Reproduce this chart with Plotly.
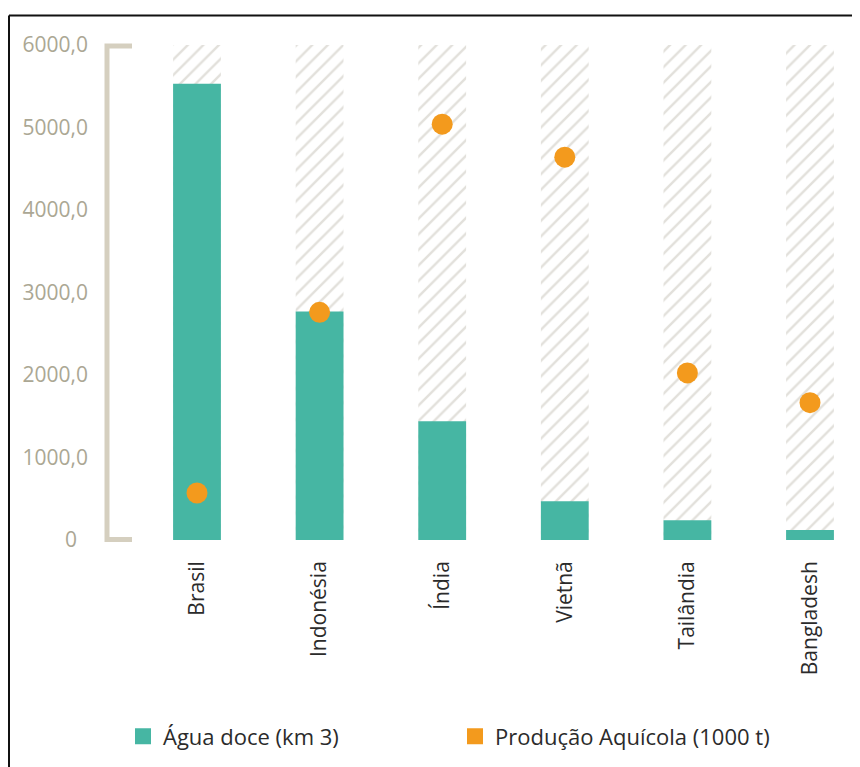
import plotly.graph_objects as go

paises = ["Brasil", "Indonésia", "Índia", "Vietnã", "Tailândia", "Bangladesh"]
agua_doce = [5530, 2770, 1440, 470, 240, 120]          # km 3
producao_aquicola = [570, 2760, 5040, 4640, 2025, 1665]  # 1000 t
escala_max = [6000] * len(paises)
tick_vals = [0, 1000, 2000, 3000, 4000, 5000, 6000]
tick_text = ["0\u00a0\u00a0", "1000,0", "2000,0", "3000,0", "4000,0", "5000,0", "6000,0"]

TEAL = "#46b6a3"
ORANGE = "#f39a1d"
OFF = 8  # page body margin
W, H = 860 - OFF, 767 - OFF
# plot area in page pixels
L_PG, R_PG, T_PG, B_PG = 110, 850, 45, 549
ML, MR, MT, MB = L_PG - OFF, W - (R_PG - OFF), T_PG - OFF, H - (B_PG - OFF)
PW, PH = W - ML - MR, H - MT - MB
STEP = 122.6
X0 = 197


def px(x):
    return (x - L_PG) / PW


def py(y):
    return (B_PG - y) / PH


fig = go.Figure()

fig.add_trace(go.Bar(
    x=paises, y=escala_max, width=0.39, showlegend=False, hoverinfo="skip",
    marker=dict(color="white", line=dict(width=0),
                pattern=dict(shape="/", fgcolor="#c6c2b8", bgcolor="white",
                             size=11, solidity=0.22)),
))
fig.add_trace(go.Bar(
    x=paises, y=agua_doce, width=0.39, name="Água doce (km 3)", showlegend=False,
    marker=dict(color=TEAL, line=dict(width=0)),
))
fig.add_trace(go.Scatter(
    x=paises, y=producao_aquicola, mode="markers", name="Produção Aquícola (1000 t)",
    showlegend=False, marker=dict(color=ORANGE, size=21, line=dict(width=0)),
))
# legend entries (square swatches)
fig.add_trace(go.Scatter(x=[None], y=[None], mode="markers", name="Água doce (km 3)",
                         marker=dict(symbol="square", color=TEAL, size=16), legend="legend"))
fig.add_trace(go.Scatter(x=[None], y=[None], mode="markers", name="Produção Aquícola (1000 t)",
                         marker=dict(symbol="square", color=ORANGE, size=16), legend="legend2"))

shapes = [
    # bracket-shaped y axis
    dict(type="path", xref="paper", yref="paper",
         path=f"M {px(132)} {py(46)} L {px(107)} {py(46)} L {px(107)} {py(548.5)} L {px(132)} {py(548.5)}",
         line=dict(color="#d5cfbf", width=5)),
    # outer frame (top and left)
    dict(type="line", xref="paper", yref="paper", x0=px(9), x1=px(880), y0=py(15), y1=py(15),
         line=dict(color="#111111", width=2)),
    dict(type="line", xref="paper", yref="paper", x0=px(9), x1=px(9), y0=py(15), y1=py(790),
         line=dict(color="#111111", width=2)),
]

leg_common = dict(orientation="h", xanchor="left", yanchor="middle",
                  font=dict(size=22, color="#2b2b2b"), itemsizing="trace",
                  bgcolor="rgba(0,0,0,0)")

fig.update_layout(
    width=W, height=H,
    margin=dict(l=ML, r=MR, t=MT, b=MB),
    paper_bgcolor="white", plot_bgcolor="white",
    barmode="overlay",
    font=dict(family="Open Sans", color="#2b2b2b"),
    shapes=shapes,
    legend=dict(x=px(123), y=py(749), **leg_common),
    legend2=dict(x=px(455), y=py(749), **leg_common),
    xaxis=dict(range=[-(X0 - L_PG) / STEP, (R_PG - X0) / STEP], showline=False,
               showgrid=False, zeroline=False, tickangle=-90, ticks="",
               tickfont=dict(size=21, color="#2b2b2b"), ticklabelstandoff=16),
    yaxis=dict(range=[0, 6000], tickvals=tick_vals, ticktext=tick_text, showline=False,
               showgrid=False, zeroline=False, ticks="",
               tickfont=dict(size=21, color="#aba794"), ticklabelstandoff=21),
)

fig.write_html("out.html")
